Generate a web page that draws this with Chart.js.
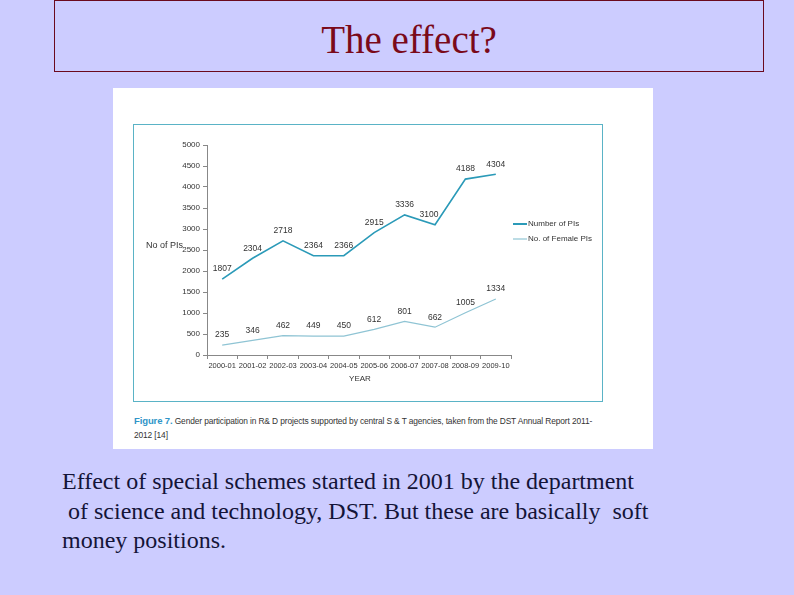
<!DOCTYPE html>
<html>
<head>
<meta charset="utf-8">
<script src="https://cdn.jsdelivr.net/npm/chart.js@4.4.1/dist/chart.umd.min.js"></script>
<style>
    body { margin: 0; width: 794px; height: 595px; background: #ccccff; position: relative; overflow: hidden; }
    #title-box { position: absolute; left: 54px; top: 0; width: 708px; height: 70px; border: 1px solid #6b0a1e; }
    #title { position: absolute; left: 0; right: 0; top: 17px; text-align: center; font: 39px "Liberation Serif", "Times New Roman", serif; color: #7a0a1a; line-height: 44px; }
    #panel { position: absolute; left: 113px; top: 88px; width: 540px; height: 361px; background: #fff; }
    #frame { position: absolute; left: 133px; top: 124px; width: 468px; height: 276px; border: 1px solid #5ab3c6; }
    #wrap { position: absolute; left: 134px; top: 125px; width: 468px; height: 276px; }
    #caption { position: absolute; left: 134px; top: 414px; font: 8.4px "Liberation Sans", Arial, sans-serif; color: #333; line-height: 14px; white-space: nowrap; letter-spacing: -0.12px; }
    #caption b { color: #2f95c8; font-weight: bold; font-size: 9.5px; }
    #text { position: absolute; left: 62px; top: 467px; font: 24px "Liberation Serif", "Times New Roman", serif; color: #141438; line-height: 29.5px; white-space: pre; }
</style>
</head>
<body>
<div id="title-box"><div id="title">The effect?</div></div>
<div id="panel"></div>
<div id="frame"></div>
<div id="wrap"><canvas id="chart" width="468" height="276"></canvas></div>
<div id="caption"><b>Figure 7.</b> Gender participation in R&amp; D projects supported by central S &amp; T agencies, taken from the DST Annual Report 2011-<br>2012 [14]</div>
<div id="text">Effect of special schemes started in 2001 by the department
 of science and technology, DST. But these are basically  soft
money positions.</div>

<script>
const years = ['2000-01', '2001-02', '2002-03', '2003-04', '2004-05', '2005-06', '2006-07', '2007-08', '2008-09', '2009-10'];
const totalPIs = [1807, 2304, 2718, 2364, 2366, 2915, 3336, 3100, 4188, 4304];
const femalePIs = [235, 346, 462, 449, 450, 612, 801, 662, 1005, 1334];
const seriesNames = ['Number of PIs', 'No. of Female PIs'];
const seriesColors = ['#2b9ab8', '#8fc4d4'];

const tinyFont = '"Liberation Sans", Arial, sans-serif';

// value labels, legend and the horizontal y title
const extras = {
    id: 'extras',
    afterDatasetsDraw(chart) {
        const ctx = chart.ctx;
        ctx.save();
        ctx.font = '8.5px ' + tinyFont;
        ctx.fillStyle = '#333';
        ctx.textAlign = 'center';
        ctx.textBaseline = 'middle';
        chart.data.datasets.forEach(function (ds, i) {
            chart.getDatasetMeta(i).data.forEach(function (pt, j) {
                let dx = 0;
                if (i === 0 && j === 7) dx = -6;
                ctx.fillText(ds.data[j], pt.x + dx, pt.y - 10);
            });
        });
        // legend
        ctx.textAlign = 'left';
        ctx.font = '8px ' + tinyFont;
        seriesNames.forEach(function (name, i) {
            const y = 99 + i * 15;
            ctx.strokeStyle = seriesColors[i];
            ctx.lineWidth = i === 0 ? 2 : 1.2;
            ctx.beginPath();
            ctx.moveTo(379, y);
            ctx.lineTo(393, y);
            ctx.stroke();
            ctx.fillText(name, 394, y);
        });
        ctx.font = '9px ' + tinyFont;
        ctx.fillText('No of PIs', 12, 121);
        ctx.textAlign = 'center';
        ctx.font = '8px ' + tinyFont;
        ctx.fillText('YEAR', 226, 254);
        ctx.restore();
    }
};

new Chart(document.getElementById('chart'), {
    type: 'line',
    data: {
        labels: years,
        datasets: [{
            label: seriesNames[0],
            data: totalPIs,
            borderColor: seriesColors[0],
            borderWidth: 1.6,
            pointRadius: 0,
            tension: 0
        }, {
            label: seriesNames[1],
            data: femalePIs,
            borderColor: seriesColors[1],
            borderWidth: 1.2,
            pointRadius: 0,
            tension: 0
        }]
    },
    plugins: [extras],
    options: {
        responsive: false,
        animation: false,
        layout: { padding: { left: 0, top: 20, right: 91, bottom: 0 } },
        plugins: { legend: { display: false }, tooltip: { enabled: false } },
        scales: {
            x: {
                offset: true,
                grid: { offset: true, drawOnChartArea: false, tickLength: 4, color: '#888' },
                border: { color: '#888' },
                ticks: { font: { size: 7.5, family: tinyFont }, color: '#333', maxRotation: 0, autoSkip: false, padding: 2 },
                afterFit(scale) { scale.height = 46; }
            },
            y: {
                min: 0,
                max: 5000,
                grid: { drawOnChartArea: false, tickLength: 4, color: '#888' },
                border: { color: '#888' },
                ticks: {
                    stepSize: 500,
                    font: { size: 8, family: tinyFont },
                    color: '#333',
                    padding: 3,
                    callback: function (v) { return String(v); }
                },
                afterFit(scale) { scale.width = 73; }
            }
        }
    }
});
</script>
</body>
</html>
